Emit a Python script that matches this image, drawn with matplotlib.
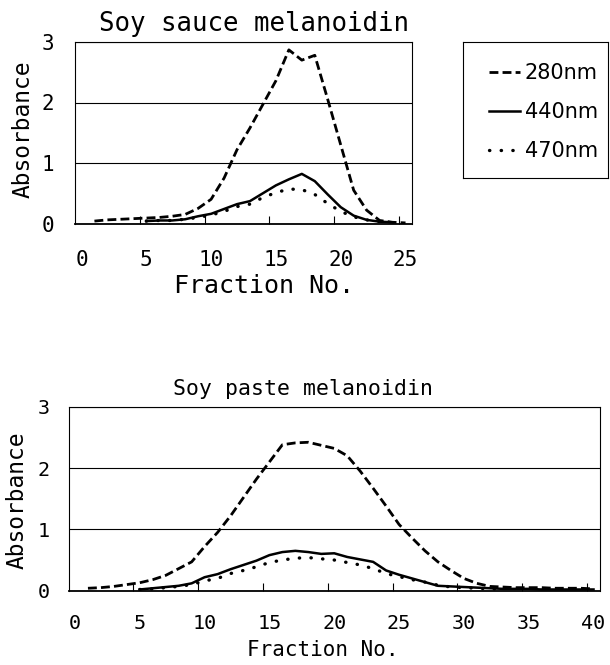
import matplotlib
matplotlib.use("Agg")
import matplotlib.pyplot as plt
from matplotlib.ticker import FixedLocator

# ---- data ----
sauce_frac_280 = list(range(1, 26))
sauce_280 = [0.04, 0.06, 0.07, 0.08, 0.09, 0.10, 0.12, 0.15, 0.25, 0.40,
             0.75, 1.22, 1.58, 1.97, 2.36, 2.87, 2.70, 2.78, 2.05, 1.30,
             0.55, 0.22, 0.05, 0.02, 0.01]
sauce_frac_440 = list(range(5, 25))
sauce_440 = [0.04, 0.05, 0.05, 0.07, 0.12, 0.16, 0.24, 0.32, 0.37, 0.50,
             0.63, 0.73, 0.82, 0.70, 0.48, 0.27, 0.13, 0.06, 0.03, 0.02]
sauce_frac_470 = list(range(5, 24))
sauce_470 = [0.04, 0.05, 0.05, 0.07, 0.10, 0.14, 0.20, 0.28, 0.32, 0.43,
             0.51, 0.57, 0.56, 0.48, 0.33, 0.20, 0.11, 0.06, 0.03]

paste_frac_280 = list(range(1, 41))
paste_280 = [0.04, 0.05, 0.07, 0.10, 0.13, 0.18, 0.25, 0.36, 0.47, 0.72,
             0.95, 1.22, 1.52, 1.82, 2.10, 2.38, 2.41, 2.42, 2.37, 2.32,
             2.20, 1.95, 1.67, 1.38, 1.08, 0.86, 0.65, 0.47, 0.33, 0.20,
             0.12, 0.07, 0.06, 0.05, 0.05, 0.05, 0.04, 0.04, 0.04, 0.03]
paste_frac_440 = list(range(5, 41))
paste_440 = [0.02, 0.04, 0.06, 0.08, 0.12, 0.22, 0.27, 0.35, 0.42, 0.49,
             0.58, 0.63, 0.65, 0.63, 0.60, 0.61, 0.55, 0.51, 0.47, 0.33,
             0.26, 0.20, 0.14, 0.08, 0.07, 0.06, 0.05, 0.04, 0.03, 0.03,
             0.03, 0.02, 0.02, 0.02, 0.02, 0.02]
paste_frac_470 = list(range(5, 34))
paste_470 = [0.02, 0.03, 0.05, 0.07, 0.10, 0.16, 0.20, 0.28, 0.33, 0.39,
             0.46, 0.50, 0.53, 0.54, 0.52, 0.50, 0.46, 0.42, 0.36, 0.28,
             0.23, 0.18, 0.14, 0.09, 0.06, 0.05, 0.04, 0.03, 0.03]

labels = ["280nm", "440nm", "470nm"]
y_ticks = [0, 1, 2, 3]

MONO = "DejaVu Sans Mono"
W, H = 610, 665

fig = plt.figure(figsize=(W / 100, H / 100), dpi=100)


def px_axes(left, top, right, bottom):
    return fig.add_axes([left / W, 1 - bottom / H, (right - left) / W, (bottom - top) / H])


def style(ax, last, tick_fs, ypad, xpad):
    ax.set_xlim(-0.5, last + 0.5)
    ax.set_ylim(0, 3)
    ax.set_xticks(list(range(0, last + 1, 5)))
    ax.xaxis.set_minor_locator(FixedLocator([v - 0.5 for v in range(5, last + 1, 5)]))
    ax.set_yticks(y_ticks)
    ax.tick_params(axis="x", which="major", length=0, pad=xpad, labelsize=tick_fs)
    ax.tick_params(axis="x", which="minor", direction="in", length=6, width=0.8)
    ax.tick_params(axis="y", length=0, pad=ypad, labelsize=tick_fs)
    for lab in ax.get_xticklabels() + ax.get_yticklabels():
        lab.set_family(MONO)
    ax.yaxis.grid(True, color="black", linewidth=0.8)
    for sp in ax.spines.values():
        sp.set_linewidth(0.8)
    ax.spines["bottom"].set_linewidth(1.3)


def draw(ax, fr, vals):
    l1, = ax.plot(fr[0], vals[0], color="black", lw=2.0, linestyle=(0, (3.2, 1.5)))
    l2, = ax.plot(fr[1], vals[1], color="black", lw=1.8, linestyle="-")
    l3, = ax.plot(fr[2], vals[2], color="black", lw=2.4, linestyle=(0, (0.1, 3.4)),
                  dash_capstyle="round")
    return [l1, l2, l3]


# top: soy sauce
ax1 = px_axes(75, 42, 412, 223.5)
handles = draw(ax1, [sauce_frac_280, sauce_frac_440, sauce_frac_470],
               [sauce_280, sauce_440, sauce_470])
style(ax1, 25, 15, 15, 19)
fig.text(254 / W, 1 - 24 / H, "Soy sauce melanoidin", family=MONO, fontsize=18.5,
         ha="center", va="center")
fig.text(264 / W, 1 - 286 / H, "Fraction No.", family=MONO, fontsize=18,
         ha="center", va="center")
fig.text(23 / W, 1 - 129 / H, "Absorbance", family=MONO, fontsize=16.5,
         rotation=90, ha="center", va="center")

# bottom: soy paste
ax2 = px_axes(68.5, 406.7, 600, 590.7)
draw(ax2, [paste_frac_280, paste_frac_440, paste_frac_470],
     [paste_280, paste_440, paste_470])
style(ax2, 40, 14.5, 13.5, 17)
fig.text(303 / W, 1 - 389 / H, "Soy paste melanoidin", family=MONO, fontsize=15.5,
         ha="center", va="center")
fig.text(323 / W, 1 - 650 / H, "Fraction No.", family=MONO, fontsize=15,
         ha="center", va="center")
fig.text(17 / W, 1 - 500 / H, "Absorbance", family=MONO, fontsize=16.5,
         rotation=90, ha="center", va="center")

# legend box
axl = px_axes(463.3, 41.7, 608.3, 178.3)
axl.set_xticks([])
axl.set_yticks([])
for sp in axl.spines.values():
    sp.set_linewidth(0.8)
axl.legend(handles, labels, loc="center left", bbox_to_anchor=(0.18, 0.485),
           frameon=False, prop={"family": "DejaVu Sans", "size": 15},
           handlelength=1.45, handletextpad=0.25, labelspacing=0.9,
           borderpad=0, borderaxespad=0)

fig.savefig("out.png", dpi=100)
